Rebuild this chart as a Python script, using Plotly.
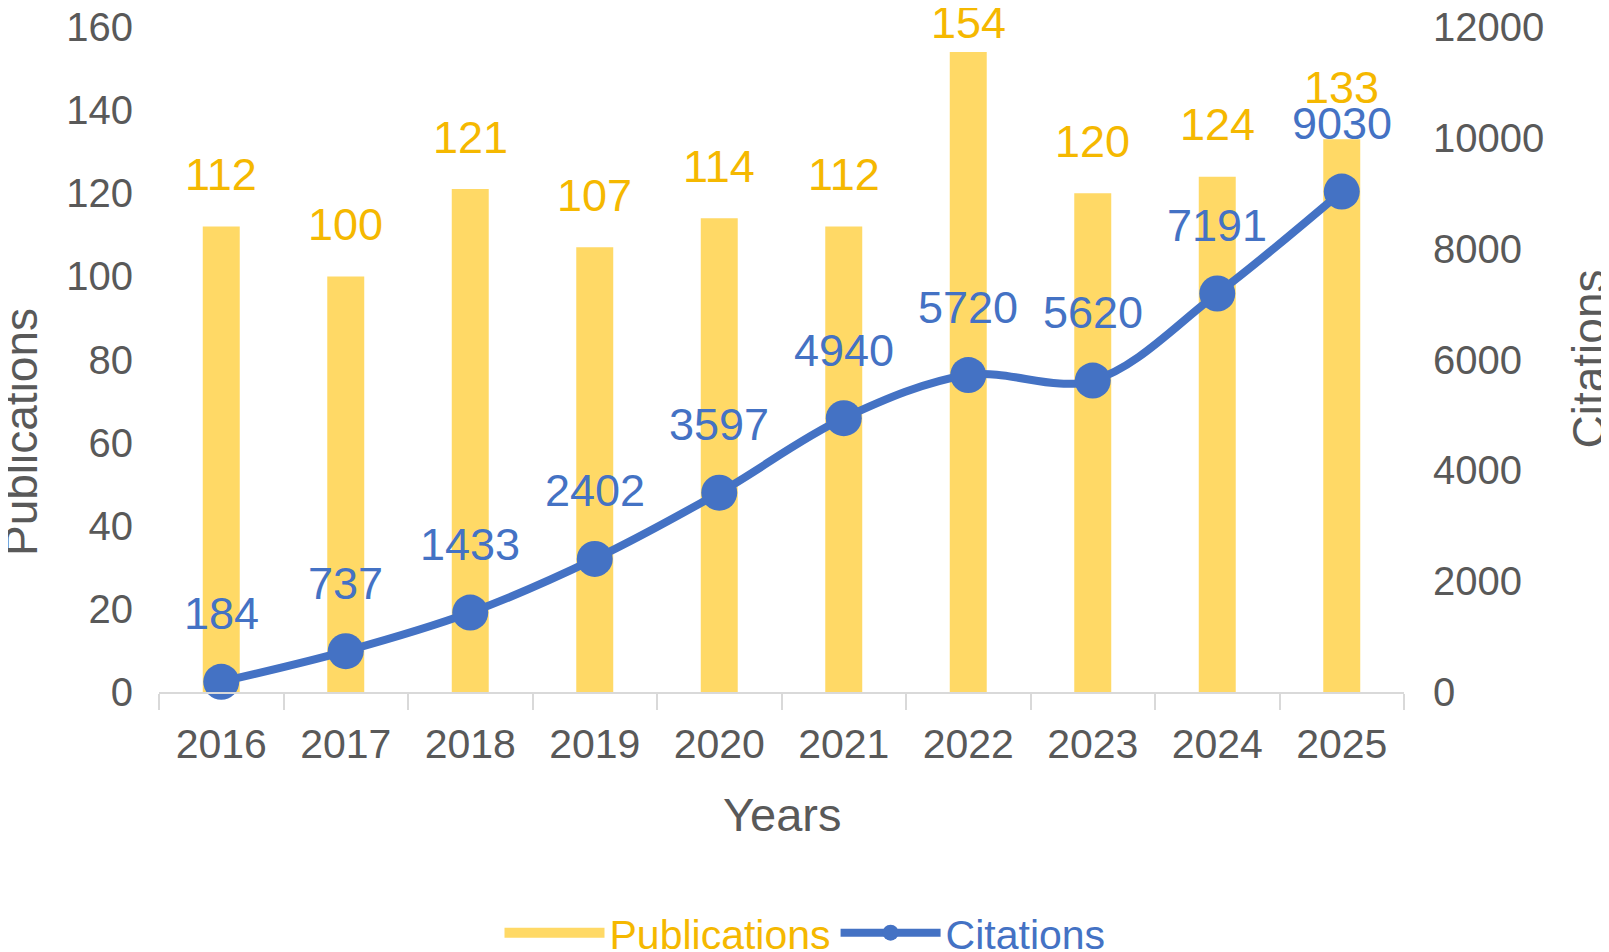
import plotly.graph_objects as go

years = ["2016", "2017", "2018", "2019", "2020", "2021", "2022", "2023", "2024", "2025"]
publications = [112, 100, 121, 107, 114, 112, 154, 120, 124, 133]
citations = [184, 737, 1433, 2402, 3597, 4940, 5720, 5620, 7191, 9030]

pub_ticks = [0, 20, 40, 60, 80, 100, 120, 140, 160]
cit_ticks = [0, 2000, 4000, 6000, 8000, 10000, 12000]

BAR = "#FFD966"
GOLD = "#F5B800"
BLUE = "#4472C4"
GREY = "#595959"
AXIS = "#D9D9D9"
FONT = "Liberation Sans, Arial, sans-serif"

W, H = 1609, 952
ML, MR, MT, MB = 151, 213, 19, 268
PW = W - ML - MR
PH = H - MT - MB

fig = go.Figure()

fig.add_trace(go.Bar(
    x=years, y=publications, name="Publications",
    marker=dict(color=BAR, line=dict(width=0)),
    showlegend=False, yaxis="y", hoverinfo="x+y",
))

# legend swatch for publications (no visible data)
fig.add_trace(go.Scatter(
    x=years[:1], y=[None], mode="lines",
    name='<span style="color:%s">Publications</span>' % GOLD,
    line=dict(color=BAR, width=28), yaxis="y", hoverinfo="skip",
))

fig.add_trace(go.Scatter(
    x=years, y=citations, name='<span style="color:%s">Citations</span>' % BLUE,
    mode="lines+markers", yaxis="y2",
    line=dict(color=BLUE, width=8, shape="spline", smoothing=1),
    marker=dict(color=BLUE, size=36, line=dict(width=0)),
    cliponaxis=False,
))

annotations = []
for i, v in enumerate(publications):
    top_px = MT + (1 - v / pub_ticks[-1]) * PH
    shift = min(52, top_px - 14)
    annotations.append(dict(
        x=i, y=v, xref="x", yref="y", text=str(v), showarrow=False,
        yanchor="middle", xanchor="center", yshift=shift,
        font=dict(size=45, color=GOLD, family=FONT),
    ))
for i, v in enumerate(citations):
    annotations.append(dict(
        x=i, y=v, xref="x", yref="y2", text=str(v), showarrow=False,
        yanchor="middle", xanchor="center", yshift=68,
        font=dict(size=45, color=BLUE, family=FONT),
    ))

# axis titles
annotations.append(dict(
    x=(13 - ML) / PW, y=(H - MB - 424) / PH, xref="paper", yref="paper",
    text="Publications", textangle=-90, showarrow=False,
    xanchor="center", yanchor="middle",
    font=dict(size=46, color=GREY, family=FONT),
))
annotations.append(dict(
    x=(1580 - ML) / PW, y=0.5, xref="paper", yref="paper",
    text="Citations", textangle=-90, showarrow=False,
    xanchor="center", yanchor="middle",
    font=dict(size=46, color=GREY, family=FONT),
))
annotations.append(dict(
    x=0.5, y=(H - MB - 806) / PH, xref="paper", yref="paper",
    text="Years", showarrow=False, xanchor="center", yanchor="middle",
    font=dict(size=47, color=GREY, family=FONT),
))

fig.update_layout(
    template="none",
    width=W, height=H, autosize=False,
    margin=dict(l=ML, r=MR, t=MT, b=MB, pad=0, autoexpand=False),
    paper_bgcolor="white", plot_bgcolor="white",
    font=dict(family=FONT, size=40, color=GREY),
    bargap=0.703,
    xaxis=dict(
        type="category", categoryarray=years, categoryorder="array",
        range=[-0.5, len(years) - 0.5], automargin=False,
        showline=True, linecolor=AXIS, linewidth=2,
        ticks="outside", tickson="boundaries", ticklen=16, tickcolor=AXIS, tickwidth=2,
        showgrid=False, zeroline=False, ticklabelstandoff=15, tickangle=0,
        tickfont=dict(size=41, color=GREY, family=FONT),
    ),
    yaxis=dict(
        range=[pub_ticks[0], pub_ticks[-1]], tickvals=pub_ticks,
        ticktext=[str(t) for t in pub_ticks], automargin=False,
        showgrid=False, zeroline=False, showline=False, ticks="",
        ticklabelstandoff=25, ticklabeloverflow="allow",
        tickfont=dict(size=40, color=GREY, family=FONT),
    ),
    yaxis2=dict(
        range=[cit_ticks[0], cit_ticks[-1]], tickvals=cit_ticks,
        ticktext=[str(t) for t in cit_ticks], automargin=False,
        overlaying="y", side="right",
        showgrid=False, zeroline=False, showline=False, ticks="",
        ticklabelstandoff=28, ticklabeloverflow="allow",
        tickfont=dict(size=40, color=GREY, family=FONT),
    ),
    legend=dict(
        orientation="h", xref="container", yref="container",
        x=797 / W, xanchor="center",
        y=(H - 925) / H, yanchor="middle",
        font=dict(size=41, family=FONT), itemwidth=100,
        bgcolor="rgba(0,0,0,0)", traceorder="normal",
    ),
    annotations=annotations,
    showlegend=True,
)

fig.write_html("out.html")
